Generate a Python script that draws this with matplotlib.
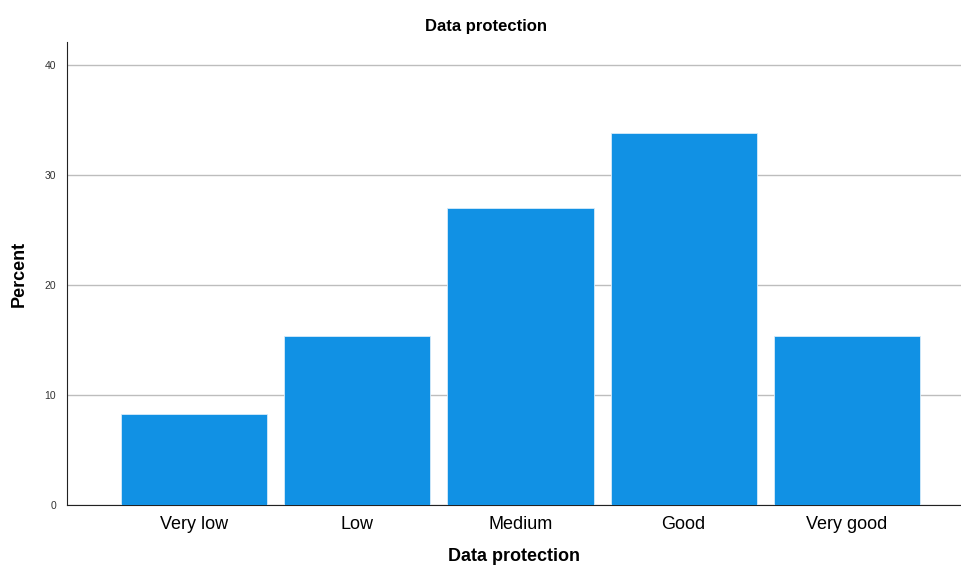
import matplotlib
matplotlib.use("Agg")
import matplotlib.pyplot as plt

plt.rcParams['font.family'] = ['Liberation Sans', 'DejaVu Sans']

categories = ["Very low", "Low", "Medium", "Good", "Very good"]
percent = [8.3, 15.4, 27.0, 33.8, 15.4]
y_ticks = [0, 10, 20, 30, 40]

fig = plt.figure(figsize=(9.61, 5.70), dpi=100)
ax = fig.add_axes([67 / 961, 65 / 570, 894 / 961, 463 / 570])

x = range(len(categories))
ax.bar(x, percent, width=0.896, color='#1191e4', edgecolor='#d6ecfa', linewidth=0.6, zorder=3)

ax.set_xlim(-0.779, 4.70)
ax.set_ylim(0, 42.1)
ax.set_xticks(list(x))
ax.set_xticklabels(categories, fontsize=13)
ax.set_yticks(y_ticks)
ax.set_yticklabels([str(t) for t in y_ticks], fontsize=7.5, color='#333333')
ax.tick_params(axis='both', length=0)
ax.tick_params(axis='x', pad=8)
ax.tick_params(axis='y', pad=8)

ax.grid(axis='y', color='#bdbdbd', linewidth=1, zorder=0)
ax.spines['top'].set_visible(False)
ax.spines['right'].set_visible(False)
ax.spines['left'].set_color('#222222')
ax.spines['bottom'].set_color('#222222')

ax.set_ylabel("Percent", fontsize=13, fontweight='bold', labelpad=12)
ax.set_xlabel("Data protection", fontsize=13, fontweight='bold', labelpad=11)
fig.text(486 / 961, 1 - 26 / 570, "Data protection", ha='center', va='center',
         fontsize=12, fontweight='bold')

fig.savefig("out.png", dpi=100)
